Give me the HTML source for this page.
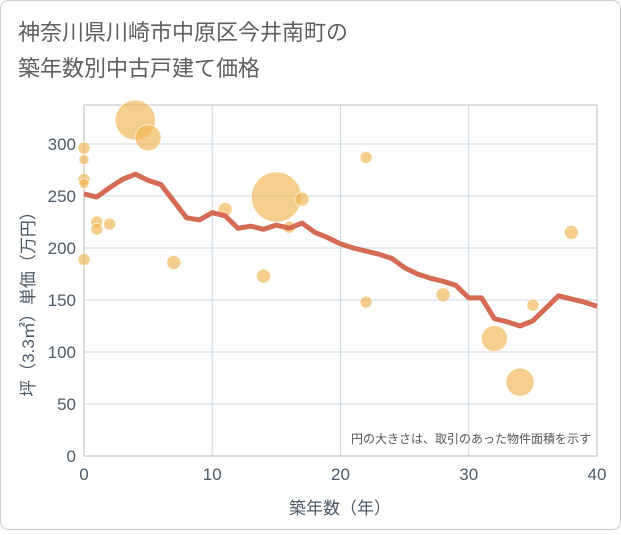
<!DOCTYPE html>
<html><head><meta charset="utf-8"><style>
body{margin:0;background:#fff;font-family:"Liberation Sans","Noto Sans CJK JP",sans-serif;}
</style></head><body>
<svg id="c" width="621" height="530" xmlns="http://www.w3.org/2000/svg">
<rect x="0.5" y="0.5" width="620" height="529" rx="8" fill="#fff" stroke="#ccc"/>
<text x="18" y="40" font-size="22" fill="#5f5f5f" font-family="Liberation Sans,Noto Sans CJK JP,sans-serif">神奈川県川崎市中原区今井南町の</text>
<text x="18" y="76" font-size="22" fill="#5f5f5f" font-family="Liberation Sans,Noto Sans CJK JP,sans-serif">築年数別中古戸建て価格</text>
<g id="grid"></g><g id="bubbles"></g><g id="line"></g><g id="axes"></g>
<text x="591" y="443" font-size="12" fill="#555" text-anchor="end" font-family="Liberation Sans,Noto Sans CJK JP,sans-serif">円の大きさは、取引のあった物件面積を示す</text>
<text x="340" y="514" font-size="17" fill="#4d5a66" text-anchor="middle" font-family="Liberation Sans,Noto Sans CJK JP,sans-serif">築年数（年）</text>
<text transform="translate(34,300) rotate(-90)" font-size="17" fill="#4d5a66" text-anchor="middle" font-family="Liberation Sans,Noto Sans CJK JP,sans-serif">坪（3.3㎡）単価（万円）</text>
</svg>
<script>
const xTicks=[0,10,20,30,40];
const yTicks=[0,50,100,150,200,250,300];
const lineYears=[0,1,2,3,4,5,6,7,8,9,10,11,12,13,14,15,16,17,18,19,20,21,22,23,24,25,26,27,28,29,30,31,32,33,34,35,36,37,38,39,40];
const lineValues=[252,249,258,266,271,265,261,245,229,227,234,231,219,221,218,222,219,224,215,210,204,200,197,194,190,181,175,171,168,164,152,152,132,129,125,130,142,154,151,148,144];
const bubbleYears=[0,0,0,0,0,1,1,2,4,5,7,11,14,15,16,17,22,22,28,32,34,35,38];
const bubbleValues=[296,285,266,262,189,225,218,223,323,306,186,237,173,249,220,247,287,148,155,113,71,145,215];
const bubbleSizes=[6,5,6,5,6,6,6,6,20,13,7,7,7,25,6,7,6,6,7,13,14,6,7];
const L=84,R=597,T=105,B=456;
const xs=v=>L+(v-0)/40*(R-L);
const ys=v=>B-v/300*(B-144);
const NS="http://www.w3.org/2000/svg";
function mk(p,t,a){const e=document.createElementNS(NS,t);for(const k in a)e.setAttribute(k,a[k]);document.getElementById(p).appendChild(e);return e;}
yTicks.forEach(v=>{const g=mk('grid','line',{x1:L,x2:R,y1:ys(v),y2:ys(v),stroke:'#ccd8e4','stroke-width':1});


const t=mk('axes','text',{x:L-8,y:ys(v)+6,'text-anchor':'end','font-size':17,fill:'#4d5a66'});t.textContent=v;

});
xTicks.forEach(v=>{const g=mk('grid','line',{x1:xs(v),x2:xs(v),y1:T,y2:B,stroke:'#ccd8e4','stroke-width':1});


const t=mk('axes','text',{x:xs(v),y:B+24,'text-anchor':'middle','font-size':17,fill:'#4d5a66'});t.textContent=v;

});
const fr=mk('grid','rect',{x:L,y:T,width:R-L,height:B-T,fill:'none',stroke:'#bbb'});


bubbleYears.forEach((yr,i)=>{const c=mk('bubbles','circle',{cx:xs(yr),cy:ys(bubbleValues[i]),r:bubbleSizes[i],fill:'rgba(240,180,80,0.65)',stroke:'rgba(255,255,255,0.6)'});

});
const p=mk('line','polyline',{points:lineYears.map((y,i)=>xs(y)+','+ys(lineValues[i])).join(' '),fill:'none',stroke:'#d66b55','stroke-width':5,'stroke-linejoin':'round'});


</script>
</body></html>
